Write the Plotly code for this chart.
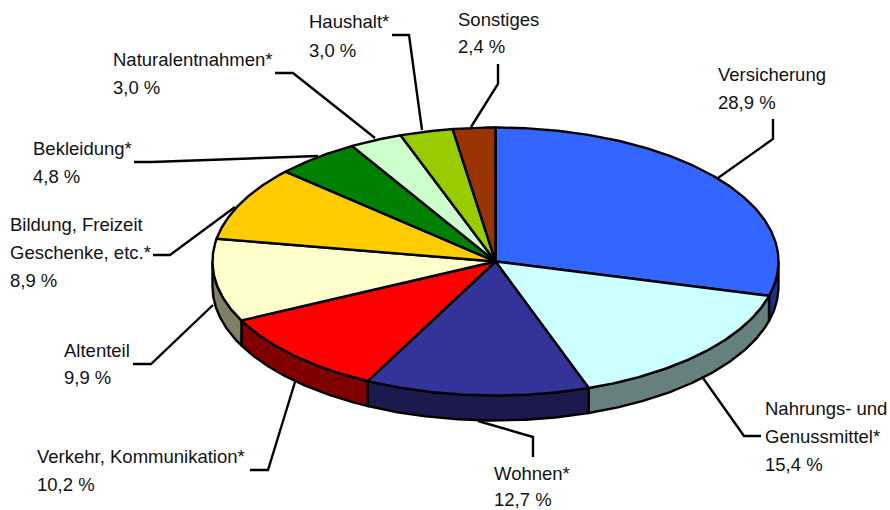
import numpy as np
import plotly.graph_objects as go

categories = ["Versicherung", "Nahrungs- und Genussmittel*", "Wohnen*", "Verkehr, Kommunikation*", "Altenteil",
              "Bildung, Freizeit Geschenke, etc.*", "Bekleidung*", "Naturalentnahmen*", "Haushalt*", "Sonstiges"]
values = [28.9, 15.4, 12.7, 10.2, 9.9, 8.9, 4.8, 3.0, 3.0, 2.4]
top_colors = ["#3366FF", "#CCFFFF", "#333399", "#FF0000", "#FFFFCC",
              "#FFCC00", "#008000", "#CCFFCC", "#99CC00", "#993300"]
wall_colors = ["#1A3380", "#668080", "#1A1A4D", "#800000", "#808066",
               "#806600", "#004000", "#668066", "#4D6600", "#4D1A00"]
label_lines = [["Versicherung", "28,9 %"], ["Nahrungs- und", "Genussmittel*", "15,4 %"], ["Wohnen*", "12,7 %"],
               ["Verkehr, Kommunikation*", "10,2 %"], ["Altenteil", "9,9 %"],
               ["Bildung, Freizeit", "Geschenke, etc.*", "8,9 %"], ["Bekleidung*", "4,8 %"],
               ["Naturalentnahmen*", "3,0 %"], ["Haushalt*", "3,0 %"], ["Sonstiges", "2,4 %"]]
label_x = [718, 765, 494, 37, 64, 10, 33, 113, 309, 458]
label_y = [[74, 102], [408, 436, 464], [473, 499], [456, 484], [350, 377],
           [224, 252, 280], [148, 176], [59, 87], [21, 50], [19, 46]]
leaders = [[(773, 119), (773, 139), (718, 178)], [(761, 436), (744, 436), (703, 378)],
           [(533, 457), (533, 437), (478, 421)], [(250, 470), (268, 470), (295, 382)],
           [(133, 364), (151, 364), (213, 305)], [(153, 255), (170, 255), (235, 207)],
           [(134, 162), (152, 162), (318, 156)], [(275, 73), (293, 73), (375, 138)],
           [(392, 35), (409, 35), (422, 130)], [(498, 64), (498, 84), (471, 127)]]

CX, CY, RX, RY, DEPTH, LW = 495.5, 261.5, 283, 134, 25, 2.4
FONT = dict(family="Liberation Sans, Arial, sans-serif", size=18.5, color="#111111")


def arc(a, b, dy=0.0):
    t = np.radians(np.linspace(a, b, max(int(abs(b - a) * 2), 2)))
    return CX + RX * np.sin(t), CY - RY * np.cos(t) + dy


edges = np.concatenate([[0], np.cumsum(values)]) / sum(values) * 360
fig = go.Figure()

for pts in leaders:
    fig.add_trace(go.Scatter(x=[p[0] for p in pts], y=[p[1] for p in pts], mode="lines",
                             line=dict(color="black", width=LW), hoverinfo="skip"))

for i, (a, b) in enumerate(zip(edges[:-1], edges[1:])):
    lo, hi = max(a, 90), min(b, 270)
    if hi > lo:
        x1, y1 = arc(lo, hi)
        x2, y2 = arc(hi, lo, DEPTH)
        fig.add_trace(go.Scatter(x=np.concatenate([x1, x2, x1[:1]]), y=np.concatenate([y1, y2, y1[:1]]),
                                 mode="lines", fill="toself", fillcolor=wall_colors[i],
                                 line=dict(color="black", width=LW), hoverinfo="skip"))

for i, (a, b) in enumerate(zip(edges[:-1], edges[1:])):
    xa, ya = arc(a, b)
    fig.add_trace(go.Scatter(x=np.concatenate([[CX], xa, [CX]]), y=np.concatenate([[CY], ya, [CY]]),
                             mode="lines", fill="toself", fillcolor=top_colors[i], name=categories[i],
                             line=dict(color="black", width=LW), hovertemplate="%{fullData.name}: " + str(values[i]) + " %<extra></extra>"))

for lines, x, ys in zip(label_lines, label_x, label_y):
    for line, y in zip(lines, ys):
        fig.add_annotation(x=x, y=y, text=line, showarrow=False, xanchor="left", yanchor="middle",
                           font=FONT, borderpad=0, borderwidth=0)

fig.update_layout(width=890, height=510, margin=dict(l=0, r=0, t=0, b=0), showlegend=False,
                  paper_bgcolor="white", plot_bgcolor="white",
                  xaxis=dict(range=[0, 890], visible=False, fixedrange=True),
                  yaxis=dict(range=[510, 0], visible=False, fixedrange=True))
fig.write_html("out.html", config=dict(displayModeBar=False),
               post_script="document.body.style.margin='0';document.body.style.overflow='hidden';")
